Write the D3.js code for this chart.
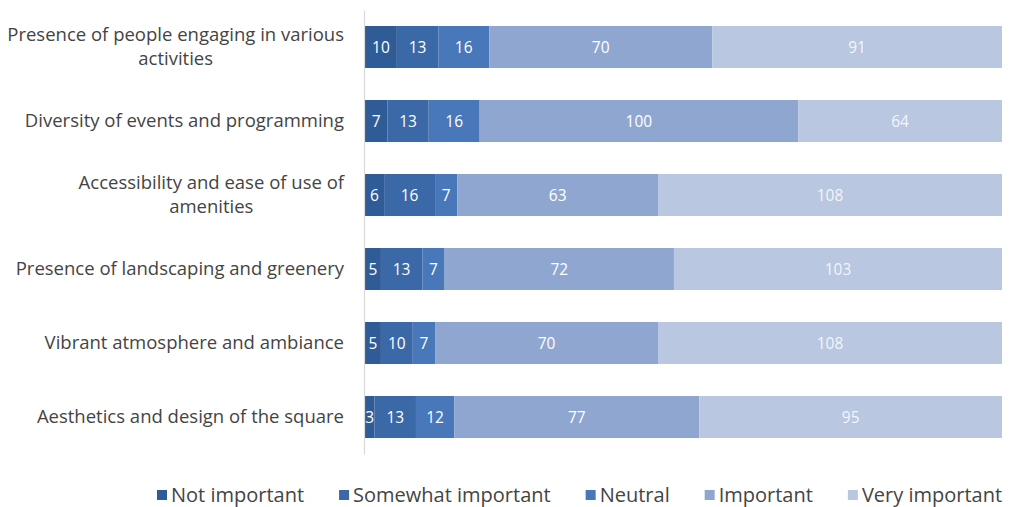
<!DOCTYPE html>
<html>
<head>
<meta charset="utf-8">
<script src="https://cdn.jsdelivr.net/npm/d3@7"></script>
<style>
  body { margin: 0; background: #fff; }
  svg { display: block; font-family: "Open Sans", Lato, sans-serif; }
</style>
</head>
<body>
<svg id="chart" width="1014" height="507"></svg>
<script>
// categories (top to bottom) and the five response series
const categories = [
  ['Presence of people engaging in various', 'activities'],
  ['Diversity of events and programming'],
  ['Accessibility and ease of use of', 'amenities'],
  ['Presence of landscaping and greenery'],
  ['Vibrant atmosphere and ambiance'],
  ['Aesthetics and design of the square']
];
const seriesNames = ['Not important', 'Somewhat important', 'Neutral', 'Important', 'Very important'];
const notImportant      = [10, 7, 6, 5, 5, 3];
const somewhatImportant = [13, 13, 16, 13, 10, 13];
const neutral           = [16, 16, 7, 7, 7, 12];
const important         = [70, 100, 63, 72, 70, 77];
const veryImportant     = [91, 64, 108, 103, 108, 95];
const colors = ['#2f5b96', '#3b68a6', '#4878b9', '#8fa7d0', '#b9c7e0'];

const svg = d3.select('#chart');
const margin = { left: 365, right: 12, top: 10, bottom: 53 };
const W = 1014, H = 507;

// build rows for the stack
const keys = seriesNames;
const cols = [notImportant, somewhatImportant, neutral, important, veryImportant];
const rows = categories.map((c, i) => {
  const r = { id: i };
  keys.forEach((k, j) => r[k] = cols[j][i]);
  return r;
});
const stacked = d3.stack().keys(keys)(rows);

const x = d3.scaleLinear().domain([0, 200]).range([margin.left, W - margin.right]);
const y = d3.scaleBand().domain(rows.map(d => d.id))
  .range([margin.top, H - margin.bottom])
  .paddingInner(0.432).paddingOuter(0.216);

// clip so labels don't spill left of the axis
svg.append('defs').append('clipPath').attr('id', 'plot')
  .append('rect').attr('x', margin.left).attr('y', 0)
  .attr('width', W - margin.left).attr('height', H);

// bars
const layer = svg.append('g').selectAll('g')
  .data(stacked)
  .enter().append('g')
  .attr('fill', (d, i) => colors[i]);

layer.selectAll('rect')
  .data(d => d)
  .enter().append('rect')
  .attr('x', d => x(d[0]))
  .attr('y', d => y(d.data.id))
  .attr('width', d => x(d[1]) - x(d[0]))
  .attr('height', y.bandwidth());

// value labels
const lbl = svg.append('g').attr('clip-path', 'url(#plot)');
stacked.forEach((s, i) => {
  lbl.selectAll(null)
    .data(s)
    .enter().append('text')
    .attr('x', d => (x(d[0]) + x(d[1])) / 2)
    .attr('y', d => y(d.data.id) + y.bandwidth() / 2)
    .attr('dy', '0.36em')
    .attr('text-anchor', 'middle')
    .attr('fill', '#fff')
    .attr('fill-opacity', i === 4 ? 0.85 : 1)
    .style('font-size', '15.5px')
    .text(d => d[1] - d[0]);
});

// y axis: just the line, labels done by hand so wrapped lines center
const yAxis = svg.append('g')
  .attr('transform', `translate(${margin.left - 1},0)`)
  .call(d3.axisLeft(y).tickSize(0).tickFormat(''));
yAxis.select('.domain').attr('stroke', '#d9d9d9').attr('stroke-width', 1.2);

const catG = svg.append('g').style('font-size', '18.5px').attr('fill', '#444');
categories.forEach((lines, i) => {
  const cy = y(i) + y.bandwidth() / 2;
  const t = catG.append('text');
  const lh = 24;
  lines.forEach((ln, k) => {
    t.append('tspan').attr('y', cy + (k - (lines.length - 1) / 2) * lh).attr('dy', '0.35em').text(ln);
  });
  const right = margin.left - 21;
  if (lines.length === 1) {
    t.attr('text-anchor', 'end').selectAll('tspan').attr('x', right);
  } else {
    const w = d3.max(t.selectAll('tspan').nodes(), n => n.getComputedTextLength());
    t.attr('text-anchor', 'middle').selectAll('tspan').attr('x', right - w / 2);
  }
});

// legend
const leg = svg.append('g').style('font-size', '20px').attr('fill', '#444');
let lx = 157;
const ly = 495;
seriesNames.forEach((name, i) => {
  const g = leg.append('g').attr('transform', `translate(${lx},${ly})`);
  g.append('rect').attr('x', 0).attr('y', -5).attr('width', 10).attr('height', 10).attr('fill', colors[i]);
  const t = g.append('text').attr('x', 14).attr('dy', '0.35em').text(name);
  lx += 14 + t.node().getComputedTextLength() + 35;
});
</script>
</body>
</html>
